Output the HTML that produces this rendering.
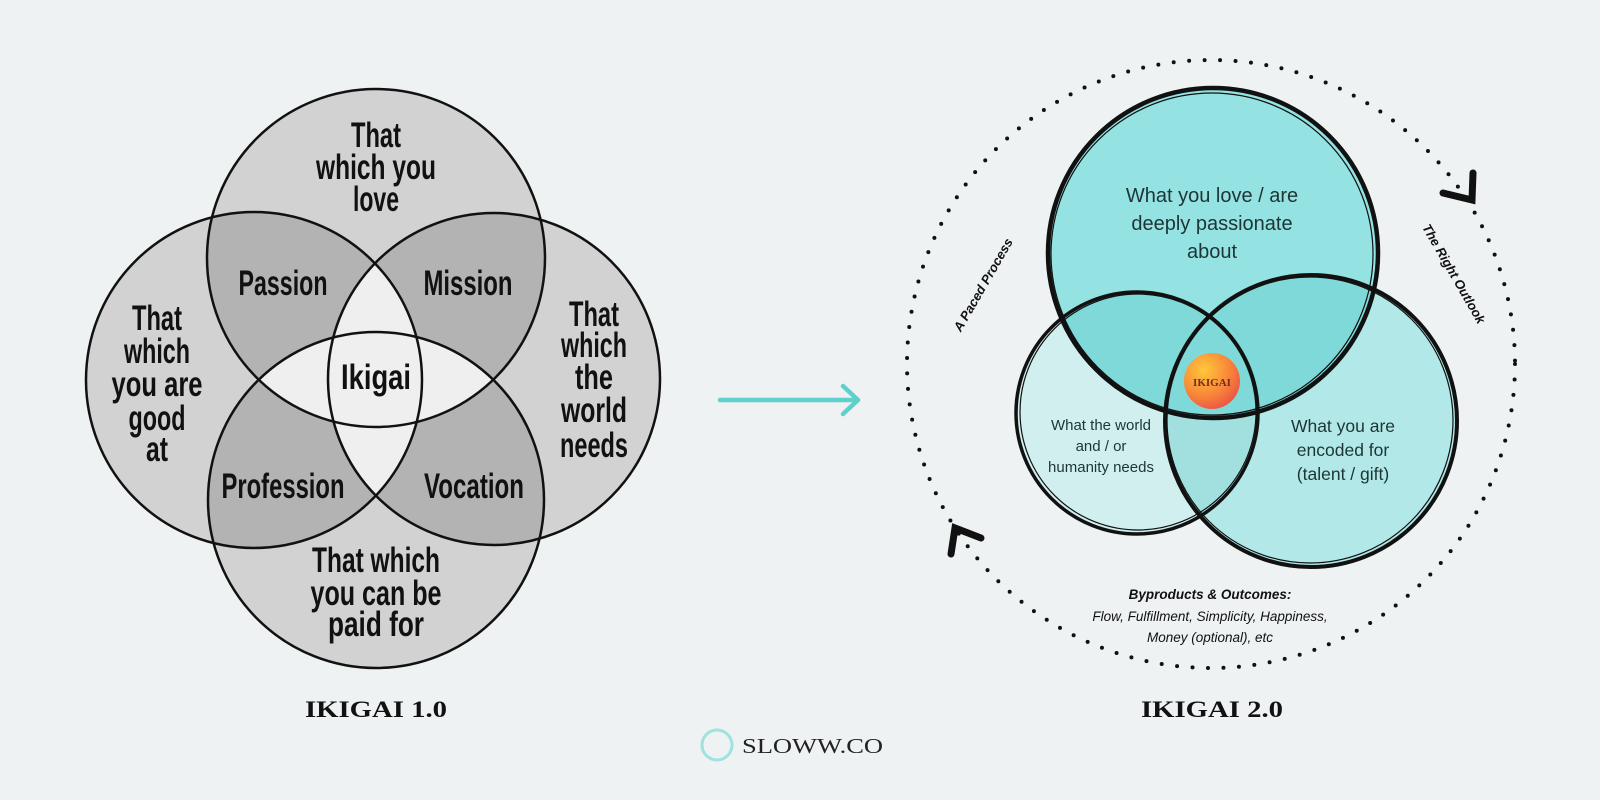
<!DOCTYPE html>
<html><head><meta charset="utf-8"><style>
html,body{margin:0;padding:0;background:#eef2f2;}
svg{display:block}
</style></head><body>
<svg width="1600" height="800" viewBox="0 0 1600 800" xmlns="http://www.w3.org/2000/svg">
<defs>
<clipPath id="cT"><circle cx="376" cy="258" r="169"/></clipPath>
<clipPath id="cB"><circle cx="376" cy="500" r="168"/></clipPath>
<clipPath id="cL"><circle cx="254" cy="380" r="168"/></clipPath>
<clipPath id="cR"><circle cx="494" cy="379" r="166"/></clipPath>
<clipPath id="rT"><circle cx="1213" cy="253" r="165"/></clipPath>
<clipPath id="rL"><circle cx="1137" cy="413" r="121"/></clipPath>
<clipPath id="rR"><circle cx="1311" cy="421" r="146"/></clipPath>
<radialGradient id="ball" cx="0.35" cy="0.3" r="0.8">
<stop offset="0" stop-color="#ffc83a"/><stop offset="0.6" stop-color="#f7843a"/><stop offset="1" stop-color="#ec4b45"/></radialGradient>
</defs>
<rect width="1600" height="800" fill="#eef2f2"/>

<!-- LEFT diagram -->
<g fill="#d2d2d2">
<circle cx="376" cy="258" r="169"/><circle cx="376" cy="500" r="168"/>
<circle cx="254" cy="380" r="168"/><circle cx="494" cy="379" r="166"/>
</g>
<g fill="#b3b3b3">
<g clip-path="url(#cT)"><circle cx="254" cy="380" r="168"/><circle cx="494" cy="379" r="166"/></g>
<g clip-path="url(#cB)"><circle cx="254" cy="380" r="168"/><circle cx="494" cy="379" r="166"/></g>
</g>
<g fill="#efefef">
<g clip-path="url(#cT)"><circle cx="376" cy="500" r="168"/></g>
<g clip-path="url(#cL)"><circle cx="494" cy="379" r="166"/></g>
</g>
<g fill="none" stroke="#111" stroke-width="2.5">
<circle cx="376" cy="258" r="169"/><circle cx="376" cy="500" r="168"/>
<circle cx="254" cy="380" r="168"/><circle cx="494" cy="379" r="166"/>
</g>
<g font-family="Liberation Sans Narrow, Liberation Sans, sans-serif" font-size="35" font-weight="bold" fill="#111" text-anchor="middle">
<text x="376" y="147" textLength="50" lengthAdjust="spacingAndGlyphs">That</text>
<text x="376" y="179" textLength="120" lengthAdjust="spacingAndGlyphs">which you</text>
<text x="376" y="211" textLength="46" lengthAdjust="spacingAndGlyphs">love</text>
<text x="283" y="295" textLength="89" lengthAdjust="spacingAndGlyphs">Passion</text>
<text x="468" y="295" textLength="89" lengthAdjust="spacingAndGlyphs">Mission</text>
<text x="376" y="389" textLength="70" lengthAdjust="spacingAndGlyphs">Ikigai</text>
<text x="283" y="498" textLength="123" lengthAdjust="spacingAndGlyphs">Profession</text>
<text x="474" y="498" textLength="100" lengthAdjust="spacingAndGlyphs">Vocation</text>
<text x="157" y="330" textLength="50" lengthAdjust="spacingAndGlyphs">That</text>
<text x="157" y="363" textLength="66" lengthAdjust="spacingAndGlyphs">which</text>
<text x="157" y="396" textLength="91" lengthAdjust="spacingAndGlyphs">you are</text>
<text x="157" y="430" textLength="57" lengthAdjust="spacingAndGlyphs">good</text>
<text x="157" y="461" textLength="22" lengthAdjust="spacingAndGlyphs">at</text>
<text x="594" y="326" textLength="50" lengthAdjust="spacingAndGlyphs">That</text>
<text x="594" y="357" textLength="66" lengthAdjust="spacingAndGlyphs">which</text>
<text x="594" y="389" textLength="38" lengthAdjust="spacingAndGlyphs">the</text>
<text x="594" y="422" textLength="66" lengthAdjust="spacingAndGlyphs">world</text>
<text x="594" y="457" textLength="68" lengthAdjust="spacingAndGlyphs">needs</text>
<text x="376" y="572" textLength="128" lengthAdjust="spacingAndGlyphs">That which</text>
<text x="376" y="605" textLength="131" lengthAdjust="spacingAndGlyphs">you can be</text>
<text x="376" y="636" textLength="96" lengthAdjust="spacingAndGlyphs">paid for</text>
</g>

<!-- arrow -->
<g stroke="#5fd0cb" stroke-width="4.5" fill="none" stroke-linecap="round" stroke-linejoin="round">
<line x1="720" y1="400" x2="858" y2="400"/>
<polyline points="843,386 858,400 843,414"/>
</g>

<!-- RIGHT diagram -->
<circle cx="1211" cy="364" r="304" fill="none" stroke="#111" stroke-width="4" stroke-dasharray="0 15.5" stroke-linecap="round"/>
<path d="M1443,193 L1472,200 L1473,173" fill="none" stroke="#111" stroke-width="7" stroke-linecap="round"/>
<path d="M981,538 L955,528 L951,554" fill="none" stroke="#111" stroke-width="7" stroke-linecap="round"/>

<circle cx="1137" cy="413" r="121" fill="#d2efef"/>
<circle cx="1311" cy="421" r="146" fill="#b2e8e8"/>
<g clip-path="url(#rL)"><circle cx="1311" cy="421" r="146" fill="#a2e0e0"/></g>
<circle cx="1213" cy="253" r="165" fill="#95e2e2"/>
<g clip-path="url(#rT)" fill="#80d9d9"><circle cx="1137" cy="413" r="121"/><circle cx="1311" cy="421" r="146"/></g>
<g fill="none" stroke="#111">
<circle cx="1137" cy="413" r="121" stroke-width="3.5"/>
<circle cx="1138" cy="412" r="118" stroke-width="1.2"/>
<circle cx="1311" cy="421" r="146" stroke-width="4"/>
<circle cx="1310" cy="420" r="143" stroke-width="1.2"/>
<circle cx="1213" cy="253" r="165" stroke-width="4.5"/>
<circle cx="1212" cy="254" r="161" stroke-width="1.2"/>
</g>
<circle cx="1212" cy="381" r="28" fill="url(#ball)"/>
<text x="1212" y="386" text-anchor="middle" font-family="Liberation Serif, serif" font-weight="bold" font-size="11" fill="#7a2a1a">IKIGAI</text>

<g font-family="Liberation Sans, sans-serif" fill="#1d3535" text-anchor="middle">
<text x="1212" y="202" font-size="20">What you love / are</text>
<text x="1212" y="230" font-size="20">deeply passionate</text>
<text x="1212" y="258" font-size="20">about</text>
<text x="1101" y="430" font-size="15">What the world</text>
<text x="1101" y="451" font-size="15">and / or</text>
<text x="1101" y="472" font-size="15">humanity needs</text>
<text x="1343" y="432" font-size="17.5">What you are</text>
<text x="1343" y="456" font-size="17.5">encoded for</text>
<text x="1343" y="480" font-size="17.5">(talent / gift)</text>
<text x="1210" y="599" font-size="13.5" font-weight="bold" font-style="italic" fill="#111">Byproducts &amp; Outcomes:</text>
<text x="1210" y="621" font-size="13.5" font-style="italic" fill="#111">Flow, Fulfillment, Simplicity, Happiness,</text>
<text x="1210" y="642" font-size="13.5" font-style="italic" fill="#111">Money (optional), etc</text>
<text transform="translate(987,287) rotate(-60)" font-size="13" font-weight="bold" font-style="italic" fill="#111">A Paced Process</text>
<text transform="translate(1450,276) rotate(60)" font-size="13" font-weight="bold" font-style="italic" fill="#111">The Right Outlook</text>
</g>

<!-- captions -->
<g font-family="Liberation Serif, serif" font-size="23" font-weight="bold" fill="#111" text-anchor="middle">
<text x="376" y="717" textLength="142" lengthAdjust="spacingAndGlyphs">IKIGAI 1.0</text>
<text x="1212" y="717" textLength="142" lengthAdjust="spacingAndGlyphs">IKIGAI 2.0</text>
</g>
<circle cx="717" cy="745" r="15" fill="none" stroke="#9fe2df" stroke-width="3"/>
<text x="742" y="753" font-family="Liberation Serif, serif" font-size="21" fill="#222" textLength="141" lengthAdjust="spacingAndGlyphs">SLOWW.CO</text>
</svg>
</body></html>
